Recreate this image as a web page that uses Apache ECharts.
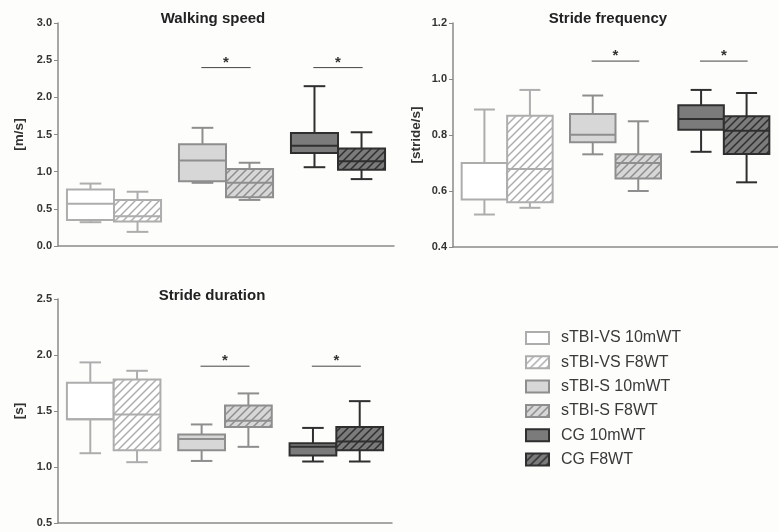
<!DOCTYPE html>
<html>
<head>
<meta charset="utf-8">
<script src="https://cdn.jsdelivr.net/npm/echarts@6/dist/echarts.min.js"></script>
<style>html,body{margin:0;padding:0;background:#fdfdfb;}#chart{width:778px;height:532px;}</style>
</head>
<body>
<div id="chart"></div>
<script>
// ---------- DATA ----------
const groups = ['sTBI-VS', 'sTBI-S', 'CG'];
const seriesNames = ['sTBI-VS 10mWT', 'sTBI-VS F8WT', 'sTBI-S 10mWT', 'sTBI-S F8WT', 'CG 10mWT', 'CG F8WT'];
const panelTitles = ['Walking speed', 'Stride frequency', 'Stride duration'];
const panelUnits = ['[m/s]', '[stride/s]', '[s]'];
// y-axis ticks: [min, max, step]
const walkingTicks = [0, 3.0, 0.5];
const frequencyTicks = [0.4, 1.2, 0.2];
const durationTicks = [0.5, 2.5, 0.5];
// each box: [min, Q1, median, Q3, max], in seriesNames order
const walkingSpeed = [
  [0.32, 0.35, 0.57, 0.76, 0.84],
  [0.19, 0.33, 0.40, 0.62, 0.73],
  [0.85, 0.87, 1.15, 1.37, 1.59],
  [0.62, 0.655, 0.85, 1.035, 1.12],
  [1.06, 1.25, 1.35, 1.52, 2.15],
  [0.90, 1.025, 1.14, 1.31, 1.53]
];
const strideFrequency = [
  [0.516, 0.570, 0.700, 0.700, 0.891],
  [0.540, 0.560, 0.679, 0.869, 0.961],
  [0.731, 0.774, 0.801, 0.875, 0.941],
  [0.600, 0.645, 0.700, 0.731, 0.849],
  [0.740, 0.819, 0.857, 0.906, 0.961],
  [0.631, 0.732, 0.815, 0.867, 0.950]
];
const strideDuration = [
  [1.123, 1.427, 1.427, 1.752, 1.934],
  [1.043, 1.150, 1.469, 1.782, 1.859],
  [1.054, 1.150, 1.251, 1.290, 1.380],
  [1.180, 1.358, 1.412, 1.550, 1.657],
  [1.049, 1.103, 1.180, 1.213, 1.349],
  [1.049, 1.150, 1.228, 1.358, 1.588]
];
// significance bars: [group, y]
const walkingSig = [['sTBI-S', 2.4], ['CG', 2.4]];
const frequencySig = [['sTBI-S', 1.064], ['CG', 1.064]];
const durationSig = [['sTBI-S', 1.9], ['CG', 1.9]];

// ---------- STYLE ----------
function hatch(bg, fg) {
  const c = document.createElement('canvas');
  c.width = 8; c.height = 8;
  const g = c.getContext('2d');
  g.fillStyle = bg; g.fillRect(0, 0, 8, 8);
  g.strokeStyle = fg; g.lineWidth = 1.5;
  g.beginPath();
  g.moveTo(-1, 9); g.lineTo(9, -1);
  g.moveTo(-1, 1); g.lineTo(1, -1);
  g.moveTo(7, 9); g.lineTo(9, 7);
  g.stroke();
  return { image: c, repeat: 'repeat' };
}
const boxStyles = [
  { fill: '#ffffff', stroke: '#adadad' },
  { fill: hatch('#ffffff', '#adadad'), stroke: '#adadad' },
  { fill: '#d7d7d7', stroke: '#8e8e8e' },
  { fill: hatch('#d7d7d7', '#8e8e8e'), stroke: '#8e8e8e' },
  { fill: '#7b7b7b', stroke: '#2f2f2f' },
  { fill: hatch('#7b7b7b', '#2f2f2f'), stroke: '#2f2f2f' }
];

const panels = [
  { data: walkingSpeed, ticks: walkingTicks, sig: walkingSig, grid: { left: 58, top: 23, width: 336, height: 223 }, nameGap: 32 },
  { data: strideFrequency, ticks: frequencyTicks, sig: frequencySig, grid: { left: 453, top: 23, width: 336, height: 224 }, nameGap: 30 },
  { data: strideDuration, ticks: durationTicks, sig: durationSig, grid: { left: 58, top: 299, width: 334, height: 224 }, nameGap: 32 }
];
const titlePos = [[213, 19], [608, 19], [212, 296]];

function boxRender(side, st) {
  return function (params, api) {
    const cat = api.value(0);
    const band = api.size([1, 0])[0];
    const bw = band * 0.42;
    const cx = api.coord([cat, api.value(3)])[0];
    const x0 = side === 0 ? cx - bw : cx;
    const Y = i => api.coord([cat, api.value(i)])[1];
    const yMin = Y(1), yQ1 = Y(2), yMed = Y(3), yQ3 = Y(4), yMax = Y(5);
    const mid = x0 + bw / 2, cap = bw * 0.46;
    const ls = { stroke: st.stroke, lineWidth: 2, fill: null };
    return {
      type: 'group',
      children: [
        { type: 'line', shape: { x1: mid, y1: yQ3, x2: mid, y2: yMax }, style: ls },
        { type: 'line', shape: { x1: mid - cap / 2, y1: yMax, x2: mid + cap / 2, y2: yMax }, style: ls },
        { type: 'line', shape: { x1: mid, y1: yQ1, x2: mid, y2: yMin }, style: ls },
        { type: 'line', shape: { x1: mid - cap / 2, y1: yMin, x2: mid + cap / 2, y2: yMin }, style: ls },
        { type: 'rect', shape: { x: x0, y: yQ3, width: bw, height: yQ1 - yQ3 }, style: { fill: st.fill, stroke: st.stroke, lineWidth: 2 } },
        { type: 'line', shape: { x1: x0, y1: yMed, x2: x0 + bw, y2: yMed }, style: ls }
      ]
    };
  };
}
function sigRender(params, api) {
  const cat = api.value(0);
  const band = api.size([1, 0])[0];
  const p = api.coord([cat, api.value(1)]);
  const hw = band * 0.22;
  return {
    type: 'group',
    children: [
      { type: 'line', shape: { x1: p[0] - hw, y1: p[1], x2: p[0] + hw, y2: p[1] }, style: { stroke: '#444', lineWidth: 1 } },
      { type: 'text', x: p[0], y: p[1] - 5, style: { text: '*', fill: '#333', font: 'bold 15px "Liberation Sans", Arial, sans-serif', textAlign: 'center', textVerticalAlign: 'middle' } }
    ]
  };
}

const grid = [], xAxis = [], yAxis = [], series = [], graphic = [];
panels.forEach((pn, pi) => {
  grid.push(Object.assign({ containLabel: false }, pn.grid));
  xAxis.push({
    type: 'category', gridIndex: pi, data: groups,
    axisLine: { lineStyle: { color: '#8a8a8a', width: 1.5 } },
    axisTick: { show: false }, axisLabel: { show: false }, splitLine: { show: false }
  });
  yAxis.push({
    type: 'value', gridIndex: pi, min: pn.ticks[0], max: pn.ticks[1], interval: pn.ticks[2],
    name: panelUnits[pi], nameLocation: 'middle', nameGap: pn.nameGap,
    nameTextStyle: { fontFamily: '"Liberation Sans", Arial, sans-serif', fontWeight: 'bold', fontSize: 13.5, color: '#333' },
    axisLine: { show: true, lineStyle: { color: '#8a8a8a', width: 1.5 } },
    axisTick: { show: true, length: 4, lineStyle: { color: '#8a8a8a', width: 1 } },
    axisLabel: { margin: 6, fontFamily: '"Liberation Sans", Arial, sans-serif', fontWeight: 'bold', fontSize: 11, color: '#333', formatter: v => v.toFixed(1) },
    splitLine: { show: false }
  });
  pn.data.forEach((b, si) => {
    const g = Math.floor(si / 2);
    series.push({
      type: 'custom', name: seriesNames[si], xAxisIndex: pi, yAxisIndex: pi,
      renderItem: boxRender(si % 2, boxStyles[si]),
      itemStyle: { color: boxStyles[si].fill, borderColor: boxStyles[si].stroke, borderWidth: 2 },
      encode: { x: 0, y: [1, 2, 3, 4, 5] },
      data: [[groups[g]].concat(b)],
      silent: true
    });
  });
  series.push({
    type: 'custom', xAxisIndex: pi, yAxisIndex: pi,
    renderItem: sigRender, encode: { x: 0, y: 1 }, data: pn.sig, silent: true
  });
  graphic.push({
    type: 'text', x: titlePos[pi][0], y: titlePos[pi][1],
    style: { text: panelTitles[pi], fill: '#222', font: 'bold 15px "Liberation Sans", Arial, sans-serif', textAlign: 'center', textVerticalAlign: 'middle' }
  });
});

const chart = echarts.init(document.getElementById('chart'), null, { renderer: 'canvas' });
chart.setOption({
  backgroundColor: '#fdfdfb',
  animation: false,
  grid, xAxis, yAxis, series, graphic,
  legend: {
    orient: 'vertical', left: 525, top: 330, padding: 0,
    itemWidth: 23, itemHeight: 12, itemGap: 8.3,
    icon: 'rect',
    selectedMode: false,
    textStyle: { fontFamily: '"Liberation Sans", Arial, sans-serif', fontSize: 16, color: '#3a3a3a', padding: [0, 0, 0, 7] },
    data: seriesNames.map((n, i) => ({ name: n, itemStyle: { color: boxStyles[i].fill, borderColor: boxStyles[i].stroke, borderWidth: 2 } }))
  }
});
</script>
</body>
</html>
